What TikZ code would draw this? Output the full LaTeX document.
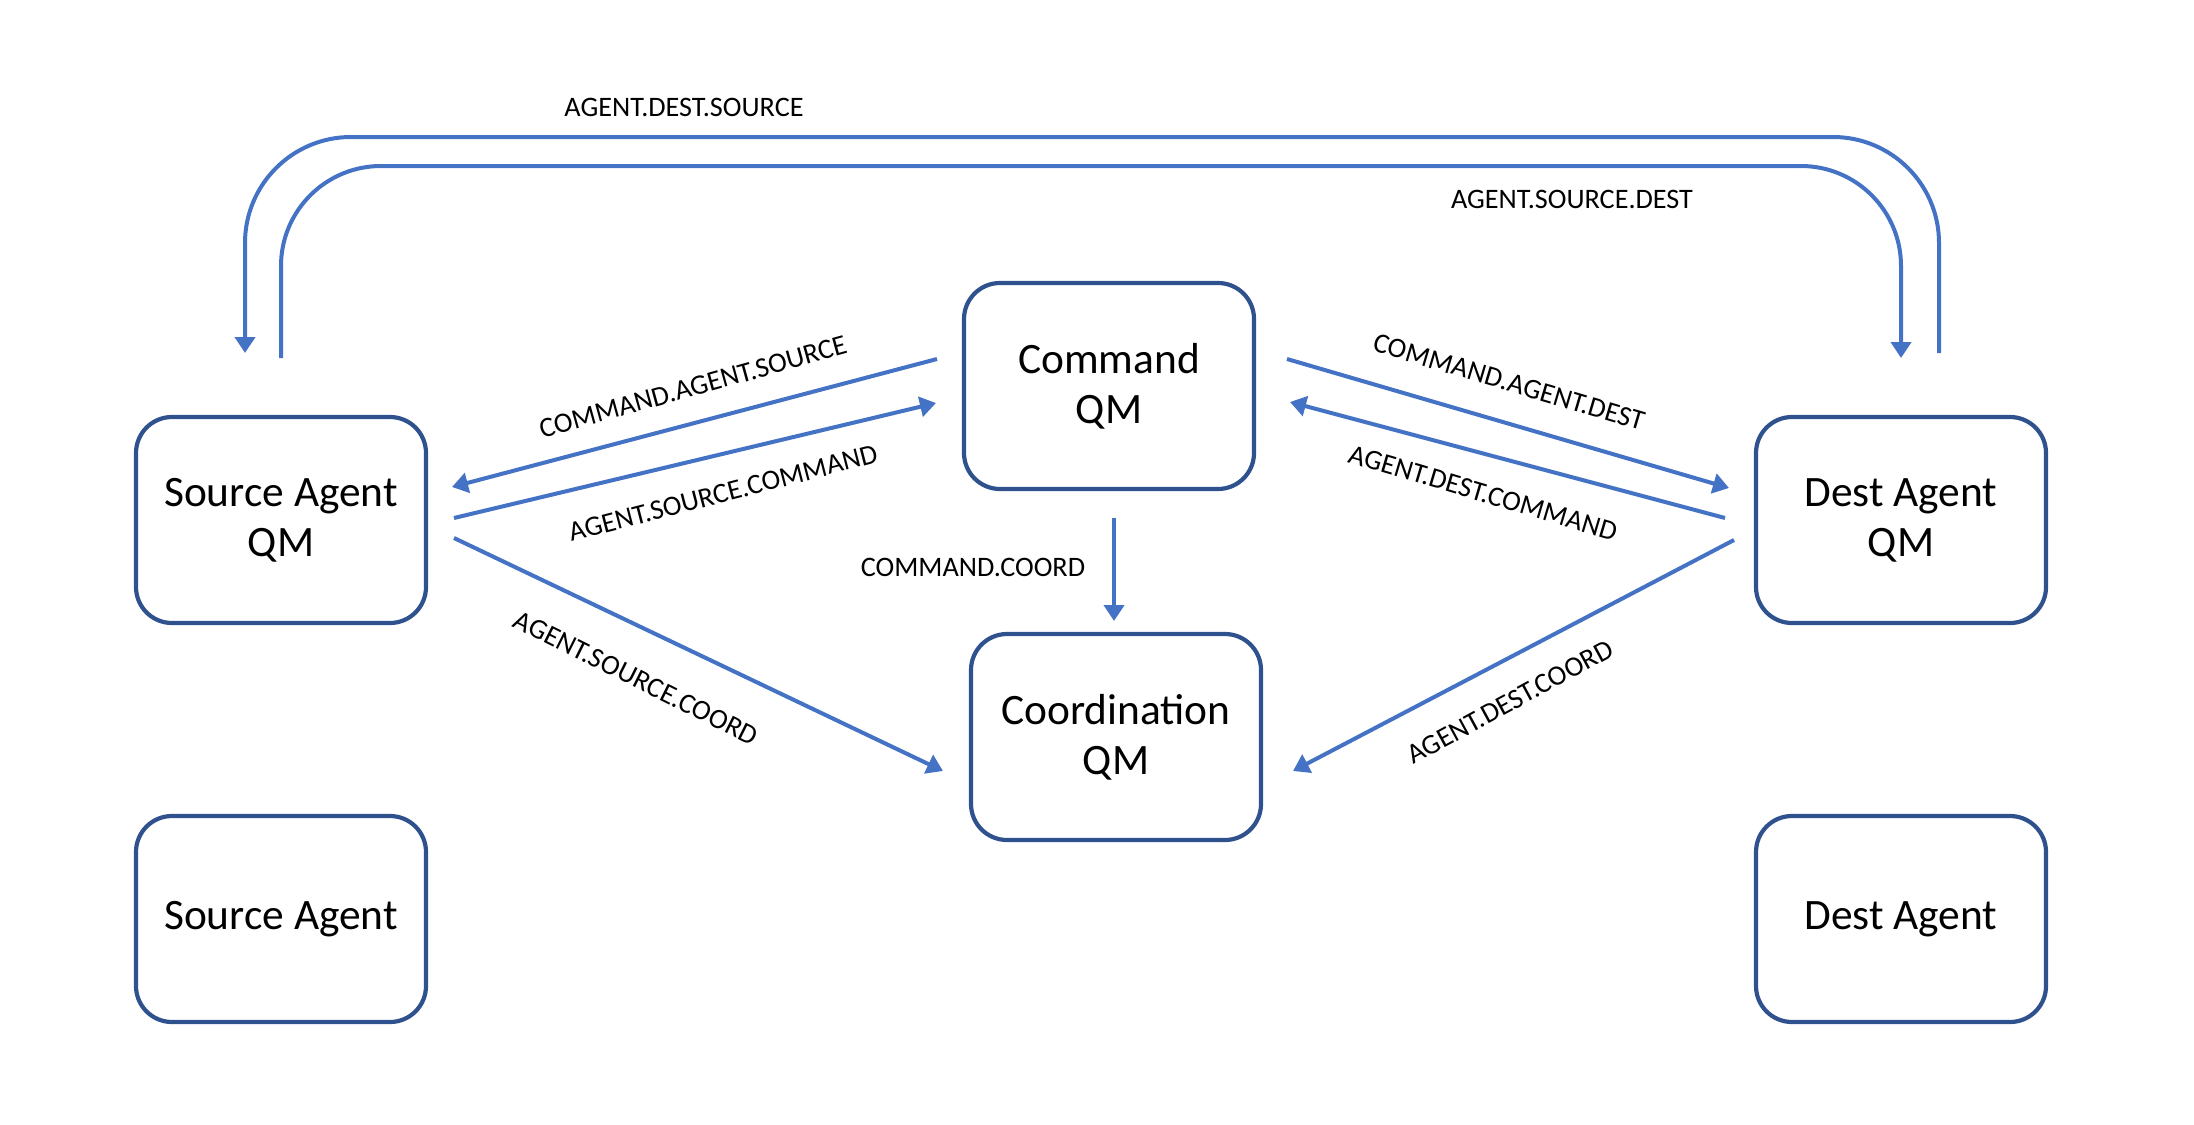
\documentclass[tikz,border=0pt]{standalone}
\usepackage{fontspec}
\setmainfont{Carlito}
\usetikzlibrary{arrows.meta,calc}

\definecolor{linkblue}{HTML}{4472C4}
\definecolor{boxblue}{HTML}{2F528F}

\begin{document}
\begin{tikzpicture}[x=0.5pt,y=0.5pt,yscale=-1,xscale=1,
  qmbox/.style={draw=boxblue,line width=2.1pt,rounded corners=18pt,outer sep=0pt,
    minimum width=145pt,minimum height=103pt,align=center,
    font=\fontsize{21.7}{25}\selectfont},
  link/.style={draw=linkblue,line width=2pt,-{Triangle[length=8pt,width=10pt]}},
  tag/.style={inner sep=0pt,font=\fontsize{14.1}{16}\selectfont}]
\useasboundingbox (0,0) rectangle (2194,1124);

% Boxes
\node [qmbox] (srcqm) at (281,520) {Source Agent\\QM};
\node [qmbox] (cmd) at (1109,386) {Command\\QM};
\node [qmbox] (dstqm) at (1901,520) {Dest Agent\\QM};
\node [qmbox] (coord) at (1116,737) {Coordination\\QM};
\node [qmbox] (src) at (281,919) {Source Agent};
\node [qmbox] (dst) at (1901,919) {Dest Agent};

% Loops over the top
\draw [link,rounded corners=53pt] ($(dstqm.north)+(38,-64)$) |- ($(srcqm.north)+(-36,-280)$) -- ($(srcqm.north)+(-36,-64)$);
\draw [link,rounded corners=50pt] ($(srcqm.north)+(0,-59)$) |- ($(dstqm.north)+(0,-251)$) -- ($(dstqm.north)+(0,-59)$);

% Links between the queue managers
\draw [link] ($(cmd.west)+(-27,-27)$) -- ($(srcqm.east)+(26,-33)$);
\draw [link] ($(srcqm.east)+(28,-2)$) -- ($(cmd.west)+(-28,17)$);
\draw [link] ($(cmd.east)+(33,-27)$) -- ($(dstqm.west)+(-27,-32)$);
\draw [link] ($(dstqm.west)+(-31,-2)$) -- ($(cmd.east)+(36,16)$);
\draw [link] ($(srcqm.east)+(28,18)$) -- ($(coord.west)+(-28,34)$);
\draw [link] ($(dstqm.west)+(-22,20)$) -- ($(coord.east)+(32,34)$);
\draw [link] ($(cmd.south)+(5,29)$) -- ($(coord.north)+(-2,-13)$);

% Text Nodes
\node [tag] (lads) at (684,107) {AGENT.DEST.SOURCE};
\node [tag] (lasd) at (1572,199) {AGENT.SOURCE.DEST};
\node [tag,rotate=15.5] (lcas) at (693,387) {COMMAND.AGENT.SOURCE};
\node [tag,rotate=14.5] (lasc) at (723,493) {AGENT.SOURCE.COMMAND};
\node [tag,rotate=-16.5] (lcad) at (1509,382) {COMMAND.AGENT.DEST};
\node [tag,rotate=-16.5] (ladc) at (1483,493) {AGENT.DEST.COMMAND};
\node [tag,rotate=-26.5] (lasco) at (636,678) {AGENT.SOURCE.COORD};
\node [tag,rotate=28.5] (ladco) at (1510,702) {AGENT.DEST.COORD};
\node [tag] (lcc) at (973,567) {COMMAND.COORD};

\end{tikzpicture}
\end{document}
